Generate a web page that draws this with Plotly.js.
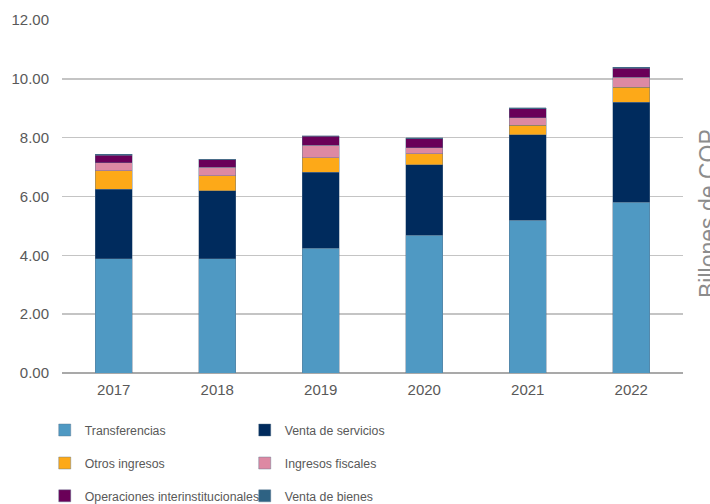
<!DOCTYPE html>
<html>
<head>
<meta charset="utf-8">
<script src="https://cdn.plot.ly/plotly-3.0.1.min.js"></script>
<style>html,body{margin:0;padding:0;background:#fff;}#chart{width:710px;height:504px;}</style>
</head>
<body>
<div id="chart"></div>
<script>
const years = ["2017", "2018", "2019", "2020", "2021", "2022"];
const transferencias = [3.88, 3.88, 4.24, 4.69, 5.19, 5.80];
const ventaServicios = [2.36, 2.31, 2.58, 2.39, 2.91, 3.40];
const otrosIngresos = [0.64, 0.52, 0.50, 0.37, 0.32, 0.52];
const ingresosFiscales = [0.26, 0.28, 0.43, 0.21, 0.26, 0.33];
const operaciones = [0.27, 0.26, 0.30, 0.30, 0.30, 0.31];
const ventaBienes = [0.02, 0.02, 0.02, 0.03, 0.03, 0.03];
const yTicks = [0, 2, 4, 6, 8, 10, 12];
const yTickText = ["0.00", "2.00", "4.00", "6.00", "8.00", "10.00", "12.00"];

const FONT = '"Liberation Sans", Arial, sans-serif';
const series = [
  {name: "Transferencias", y: transferencias, color: "#4F99C3", legend: "legend"},
  {name: "Venta de servicios", y: ventaServicios, color: "#002B5D", legend: "legend"},
  {name: "Otros ingresos", y: otrosIngresos, color: "#FDA918", legend: "legend2"},
  {name: "Ingresos fiscales", y: ingresosFiscales, color: "#DD89A3", legend: "legend2"},
  {name: "Operaciones interinstitucionales", y: operaciones, color: "#6A0058", legend: "legend3"},
  {name: "Venta de bienes", y: ventaBienes, color: "#2E6283", legend: "legend3"}
];

const traces = series.map(s => ({
  type: "bar",
  x: years,
  y: s.y,
  name: s.name,
  legend: s.legend,
  marker: {color: s.color, line: {color: "rgba(90,115,140,0.7)", width: 0.6}},
  hoverinfo: "x+y+name"
}));

function leg(yPos) {
  return {
    orientation: "h",
    x: -0.0278, xanchor: "left",
    y: yPos, yanchor: "middle",
    entrywidth: 155,
    font: {family: FONT, size: 12.3, color: "#595959"},
    bgcolor: "rgba(0,0,0,0)",
    traceorder: "normal",
    itemclick: false
  };
}

const layout = {
  width: 710, height: 504,
  margin: {l: 62, r: 27, t: 20, b: 131, autoexpand: false},
  paper_bgcolor: "#ffffff",
  plot_bgcolor: "#ffffff",
  barmode: "stack",
  bargap: 0.64,
  font: {family: FONT, size: 15, color: "#595959"},
  xaxis: {
    type: "category",
    tickfont: {family: FONT, size: 15, color: "#595959"},
    ticks: "",
    showgrid: false,
    showline: false,
    zeroline: false,
    ticklabelstandoff: 6
  },
  yaxis: {
    range: [0, 12],
    tickvals: yTicks,
    ticktext: yTickText,
    tickfont: {family: FONT, size: 15, color: "#595959"},
    showgrid: true,
    gridcolor: "#C4C4C4",
    gridwidth: 1.5,
    zeroline: true,
    zerolinecolor: "#A9A9A9",
    zerolinewidth: 1.5,
    ticks: "",
    ticklabelstandoff: 12,
    fixedrange: true
  },
  showlegend: true,
  legend: leg(-0.1615),
  legend2: leg(-0.255),
  legend3: leg(-0.348),
  annotations: [{
    text: "Billones de COP",
    textangle: -90,
    xref: "paper", yref: "paper",
    x: 1.016, xanchor: "left",
    y: 0.453, yanchor: "middle",
    showarrow: false,
    font: {family: FONT, size: 23, color: "#8C8C8C"}
  }]
};

Plotly.newPlot("chart", traces, layout, {displayModeBar: false, staticPlot: true});
</script>
</body>
</html>
